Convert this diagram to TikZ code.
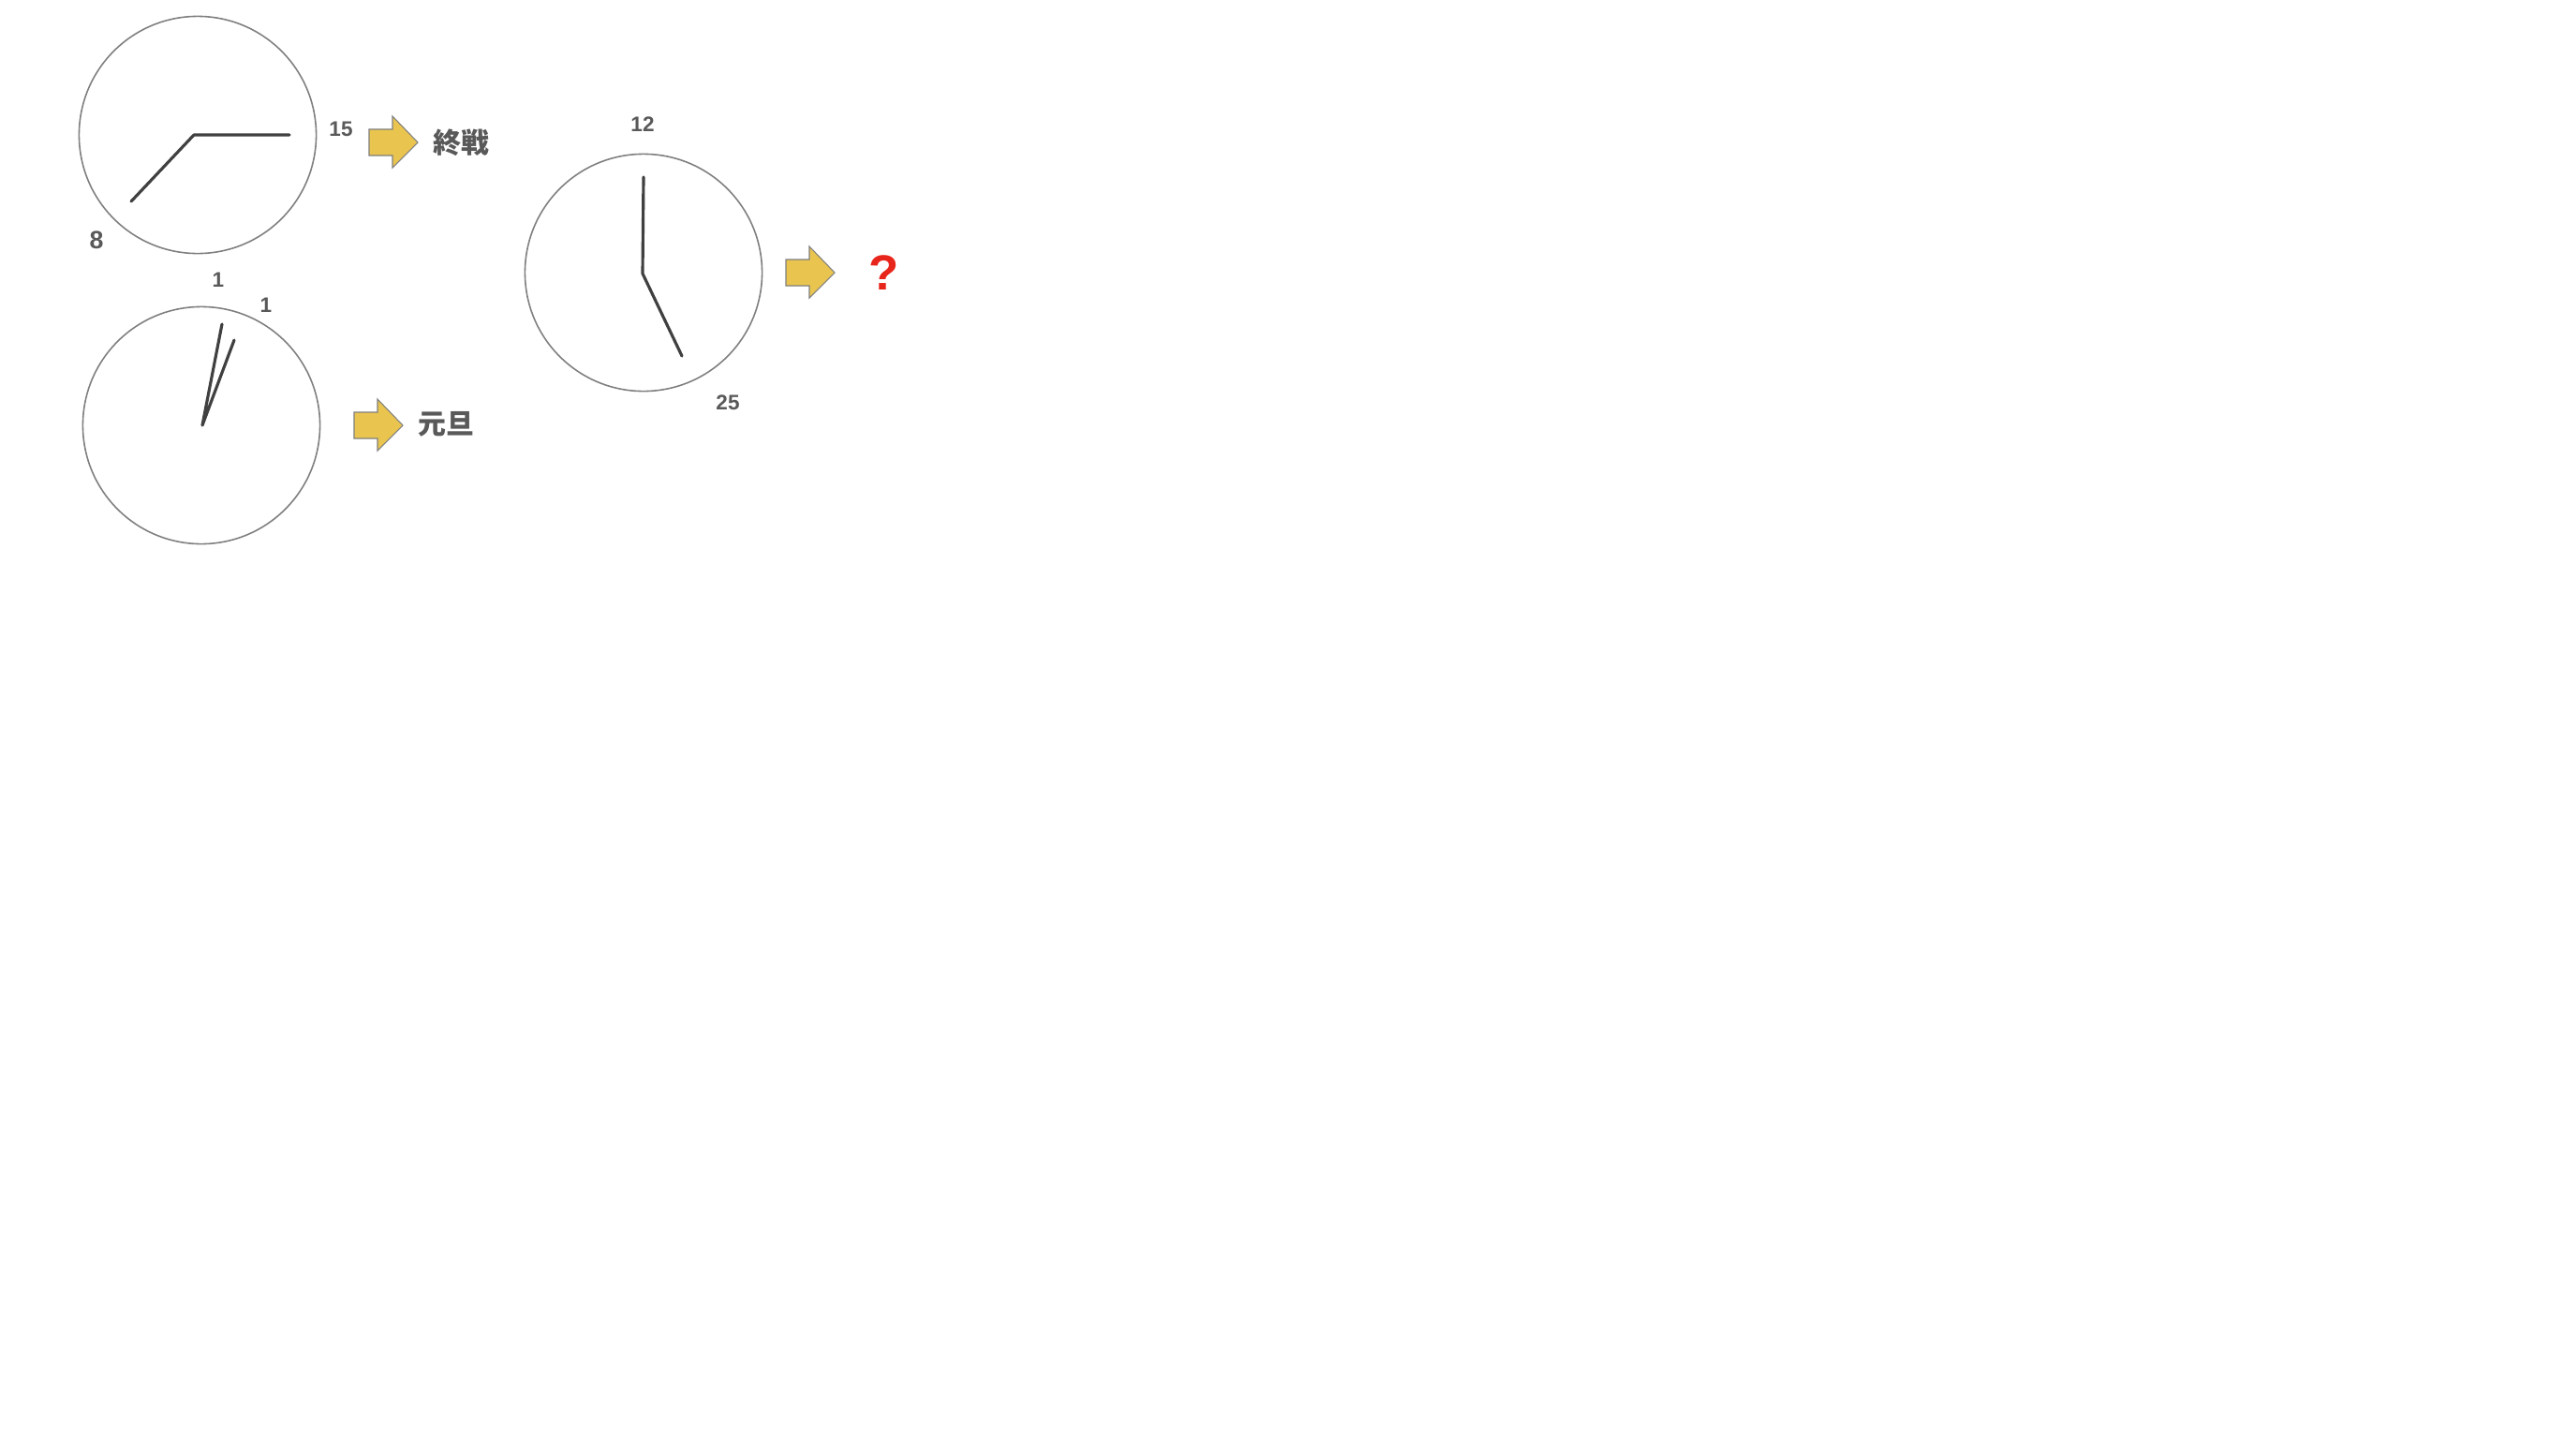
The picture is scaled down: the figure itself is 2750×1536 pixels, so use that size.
\documentclass[tikz,border=0pt]{standalone}
\usepackage{fontspec}
\setmainfont{Liberation Sans}
\newfontfamily\jpfont{Noto Sans CJK JP}
\usetikzlibrary{positioning}
\definecolor{facegray}{HTML}{7F7F7F}
\definecolor{handgray}{HTML}{404040}
\definecolor{textgray}{HTML}{595959}
\definecolor{arrowgold}{HTML}{E9C44F}
\definecolor{qred}{HTML}{E8251B}

\tikzset{
  clockface/.style={draw=facegray, line width=0.45pt, circle, minimum size=2.53cm, inner sep=0pt},
  hand/.style={draw=handgray, line width=0.9pt, line cap=round, line join=round},
  numlabel/.style={text=textgray, font=\bfseries\fontsize{6.4pt}{7pt}\selectfont, inner sep=0pt},
  jplabel/.style={text=textgray, font=\jpfont\bfseries\fontsize{8.5pt}{9pt}\selectfont, inner sep=0pt},
  goarrow/.pic={
    \draw[draw=gray, line width=0.3pt, fill=arrowgold]
      (0,-14) -- (25,-14) -- (25,-28) -- (52,0) -- (25,27) -- (25,14) -- (0,14) -- cycle;
  }
}

\begin{document}
\begin{tikzpicture}[x=0.01cm, y=-0.01cm]
  \useasboundingbox (0,0) rectangle (2750,1536);

  % clock 1 : 8:15
  \node[clockface] (c1) at (211,144) {};
  \coordinate (p1) at (207,144);
  \coordinate (c1min) at (309,144);
  \coordinate (c1hr) at (140,215);
  \draw[hand] (c1hr) -- (p1) -- (c1min);
  \node[numlabel] (l15) at (364,138) {15};
  \node[numlabel, font=\bfseries\fontsize{7.6pt}{8pt}\selectfont] (l8) at (103,256) {8};
  \pic (a1) at (394,152) {goarrow};
  \node[jplabel] (t1) at (492,152) {終戦};

  % clock 2 : 1:01
  \node[clockface] (c2) at (215,454) {};
  \coordinate (p2) at (216,454);
  \coordinate (c2min) at (237,346);
  \coordinate (c2hr) at (250,363);
  \draw[hand] (c2min) -- (p2) -- (c2hr);
  \node[numlabel] (l1a) at (233,299) {1};
  \node[numlabel] (l1b) at (284,326) {1};
  \pic (a2) at (378,454) {goarrow};
  \node[jplabel] (t2) at (476,453) {元旦};

  % clock 3 : 12:25
  \node[clockface] (c3) at (687,291) {};
  \coordinate (p3) at (686,292);
  \coordinate (c3min) at (687,189);
  \coordinate (c3hr) at (728,380);
  \draw[hand] (c3min) -- (p3) -- (c3hr);
  \node[numlabel] (l12) at (686,133) {12};
  \node[numlabel] (l25) at (777,430) {25};
  \pic (a3) at (839,291) {goarrow};
  \node[text=qred, font=\bfseries\fontsize{15pt}{16pt}\selectfont, inner sep=0pt] (q) at (944,291) {?};
\end{tikzpicture}
\end{document}
